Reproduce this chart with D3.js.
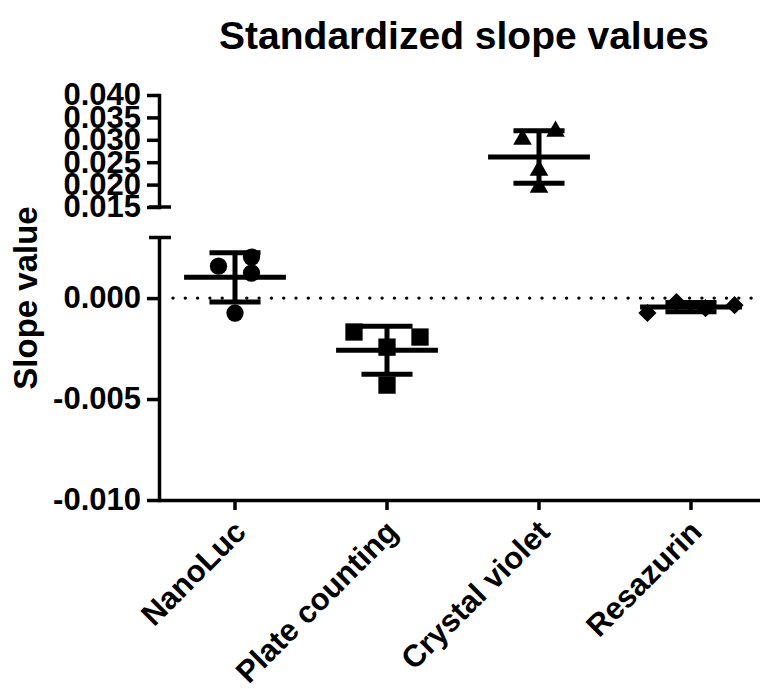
<!DOCTYPE html>
<html>
<head>
<meta charset="utf-8">
<script src="https://cdn.jsdelivr.net/npm/d3@7"></script>
<style>
  body { margin: 0; background: #fff; }
  svg text { font-family: "Liberation Sans", Arial, sans-serif; font-weight: bold; fill: #000; }
</style>
</head>
<body>
<svg id="chart" width="760" height="689"></svg>
<script>
// data, listed in entry order
const categories = ['NanoLuc', 'Plate counting', 'Crystal violet', 'Resazurin'];
const nanoLuc = [0.00158, 0.00203, 0.00124, -0.00074];
const plateCounting = [-0.00243, -0.00193, -0.00168, -0.00431];
const crystalViolet = [0.0301, 0.0319, 0.0232, 0.0194];
const resazurin = [-0.00020, -0.00050, -0.00074, -0.00035];
const groups = [nanoLuc, plateCounting, crystalViolet, resazurin];

const lowerTicks = [-0.010, -0.005, 0.000];
const upperTicks = [0.015, 0.020, 0.025, 0.030, 0.035, 0.040];
const lowerDomain = [-0.010, 0.003];
const upperDomain = [0.015, 0.040];

const svg = d3.select('#chart');
const axisX = 159;

const x = d3.scaleBand().domain(categories).range([axisX, 767]);
const yLow = d3.scaleLinear().domain(lowerDomain).range([500, 237.5]);
const yUp = d3.scaleLinear().domain(upperDomain).range([207, 95]);
const y = v => v >= upperDomain[0] ? yUp(v) : yLow(v);

const fmt = d => d3.format('.3f')(d).replace('\u2212', '-');

// title
svg.append('text')
  .attr('x', 464).attr('y', 49)
  .attr('text-anchor', 'middle')
  .attr('font-size', '39px')
  .text('Standardized slope values');

// y title
svg.append('text')
  .attr('transform', 'translate(37,298) rotate(-90)')
  .attr('text-anchor', 'middle')
  .attr('font-size', '33px')
  .text('Slope value');

// zero reference line
svg.append('line')
  .attr('x1', axisX + 14).attr('x2', 760)
  .attr('y1', yLow(0)).attr('y2', yLow(0))
  .attr('stroke', '#000').attr('stroke-width', 3.4)
  .attr('stroke-linecap', 'round')
  .attr('stroke-dasharray', '0 12.3');

function styleAxis(g) {
  g.selectAll('path.domain').attr('stroke', '#000').attr('stroke-width', 3.5);
  g.selectAll('.tick line').attr('stroke', '#000').attr('stroke-width', 3.5);
  g.selectAll('.tick text').attr('font-size', '31px').attr('font-family', null);
}

// y axis, two segments
const gLow = svg.append('g').attr('transform', `translate(${axisX},0)`)
  .call(d3.axisLeft(yLow).tickValues(lowerTicks).tickFormat(fmt).tickSize(12).tickSizeOuter(0).tickPadding(6));
styleAxis(gLow);
const gUp = svg.append('g').attr('transform', `translate(${axisX},0)`)
  .call(d3.axisLeft(yUp).tickValues(upperTicks).tickFormat(fmt).tickSize(12).tickSizeOuter(0).tickPadding(6));
styleAxis(gUp);
gLow.select('path.domain').attr('stroke-linecap', 'square');
gUp.select('path.domain').attr('stroke-linecap', 'square');

// break caps
[yLow(lowerDomain[1]), yUp(upperDomain[0])].forEach(yy => {
  svg.append('line')
    .attr('x1', axisX - 10).attr('x2', axisX + 12)
    .attr('y1', yy).attr('y2', yy)
    .attr('stroke', '#000').attr('stroke-width', 3.5);
});

// x axis
const gX = svg.append('g').attr('transform', 'translate(0,500)')
  .call(d3.axisBottom(x).tickSize(10).tickSizeOuter(0));
styleAxis(gX);
gX.selectAll('.tick text')
  .attr('text-anchor', 'end')
  .attr('dy', '0.35em')
  .attr('transform', 'translate(5,26) rotate(-45)')
  .attr('x', 0).attr('y', 0);

// scatter placement: points that overlap vertically are spread into columns
const markerSize = 17.3;
const colStep = 33;
const hitGap = 15.6;
function spread(values) {
  const py = values.map(y);
  const col = new Array(values.length).fill(null);
  const order = [0, 1, -1, 2, -2, 3, -3];
  values.forEach((v, i) => {
    for (const c of order) {
      const clash = col.some((cc, j) => cc === c && j !== i && Math.abs(py[j] - py[i]) < hitGap);
      if (!clash) { col[i] = c; break; }
    }
  });
  // cluster points linked by vertical overlap, then centre each cluster
  const cluster = values.map((_, i) => i);
  const find = i => cluster[i] === i ? i : (cluster[i] = find(cluster[i]));
  values.forEach((_, i) => values.forEach((_, j) => {
    if (i < j && Math.abs(py[i] - py[j]) < hitGap) cluster[find(i)] = find(j);
  }));
  const off = new Array(values.length);
  d3.group(values.map((_, i) => i), i => find(i)).forEach(ids => {
    const cs = ids.map(i => col[i]);
    const mid = (d3.min(cs) + d3.max(cs)) / 2;
    const step = cs.length > 3 ? colStep * 0.88 : colStep;
    ids.forEach(i => { off[i] = (col[i] - mid) * step; });
  });
  return off;
}

const symbols = [
  d3.symbol().type(d3.symbolCircle).size(Math.PI * (markerSize / 2) ** 2),
  d3.symbol().type(d3.symbolSquare).size(markerSize * markerSize),
  d3.symbol().type(d3.symbolTriangle).size(150),
  d3.symbol().type(d3.symbolSquare).size(165)
];

groups.forEach((vals, gi) => {
  const cx = x(categories[gi]) + x.bandwidth() / 2;
  const m = d3.mean(vals);
  const sd = d3.deviation(vals);
  const g = svg.append('g');
  const off = spread(vals);

  g.selectAll('path.pt').data(vals).join('path')
    .attr('class', 'pt')
    .attr('d', symbols[gi])
    .attr('fill', '#000')
    .attr('transform', (d, i) => `translate(${cx + off[i]},${y(d)})` + (gi === 3 ? ' rotate(45)' : ''));

  const capHalf = x.bandwidth() * 0.168;
  const meanHalf = x.bandwidth() * 0.335;
  g.append('line')
    .attr('x1', cx).attr('x2', cx).attr('y1', y(m + sd)).attr('y2', y(m - sd))
    .attr('stroke', '#000').attr('stroke-width', 5);
  [m + sd, m - sd].forEach(v => {
    g.append('line')
      .attr('x1', cx - capHalf).attr('x2', cx + capHalf).attr('y1', y(v)).attr('y2', y(v))
      .attr('stroke', '#000').attr('stroke-width', 5);
  });
  g.append('line')
    .attr('x1', cx - meanHalf).attr('x2', cx + meanHalf).attr('y1', y(m)).attr('y2', y(m))
    .attr('stroke', '#000').attr('stroke-width', 5);
});
</script>
</body>
</html>
